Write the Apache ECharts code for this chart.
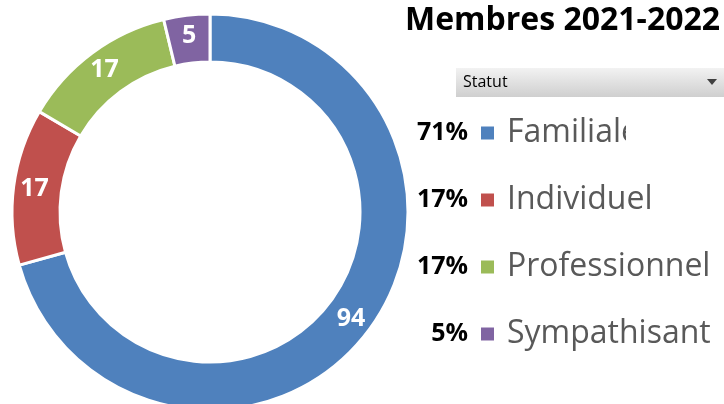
<!DOCTYPE html>
<html>
<head>
<meta charset="utf-8">
<style>
  html, body { margin: 0; padding: 0; background: #fff; }
  #chart { width: 724px; height: 404px; }
</style>
<script src="https://cdn.jsdelivr.net/npm/echarts@6/dist/echarts.min.js"></script>
</head>
<body>
<div id="chart"></div>
<script>
// Membres 2021-2022 par statut
var categories = ["Familiale", "Individuel", "Professionnel", "Sympathisant"];
var values = [94, 17, 17, 5];
var percents = ["71%", "17%", "17%", "5%"];
var colors = ["#4f81bd", "#c0504d", "#9bbb59", "#8064a2"];

(function () {
    var myChart = echarts.init(document.getElementById("chart"));

    var pieData = categories.map(function (name, i) {
        return { name: name, value: values[i] };
    });

    // legend layout
    var legendTop = 116;
    var rowH = 34;
    var gap = 33;

    var graphics = [
        {
            type: "rect",
            shape: { x: 456, y: 68, width: 268, height: 29 },
            style: {
                fill: new echarts.graphic.LinearGradient(0, 0, 0, 1, [
                    { offset: 0, color: "#f2f2f2" },
                    { offset: 1, color: "#cfcfcf" }
                ])
            }
        },
        {
            type: "text",
            x: 463, y: 82,
            style: {
                text: "Statut",
                font: "16px 'Open Sans', sans-serif",
                fill: "#000",
                verticalAlign: "middle"
            }
        },
        {
            type: "polygon",
            shape: { points: [[707, 79], [717, 79], [712, 85]] },
            style: { fill: "#404040" }
        },
        // mask over the end of "Familiale"
        {
            type: "rect",
            z: 100,
            shape: { x: 626, y: legendTop - 2, width: 100, height: rowH + 4 },
            style: { fill: "#fff" }
        }
    ];

    percents.forEach(function (p, i) {
        graphics.push({
            type: "text",
            x: 468,
            y: legendTop + rowH / 2 + i * (rowH + gap),
            style: {
                text: p,
                font: "bold 25px 'Open Sans', sans-serif",
                fill: "#000",
                align: "right",
                verticalAlign: "middle"
            }
        });
    });

    var option = {
        backgroundColor: "#fff",
        color: colors,
        title: {
            text: "Membres 2021-2022",
            left: 400,
            top: 0,
            textStyle: {
                fontFamily: "Open Sans",
                fontWeight: "bold",
                fontSize: 32,
                color: "#000"
            }
        },
        legend: {
            orient: "vertical",
            left: 479,
            top: legendTop,
            padding: 0,
            itemWidth: 15,
            itemHeight: 15,
            itemGap: gap,
            icon: "rect",
            data: categories,
            textStyle: {
                fontFamily: "Open Sans",
                fontSize: 32,
                color: "#595959",
                lineHeight: rowH,
                height: rowH,
                padding: [0, 0, 0, 7]
            }
        },
        graphic: graphics,
        series: [{
            type: "pie",
            center: [210, 212],
            radius: [150, 198],
            startAngle: 90,
            clockwise: true,
            avoidLabelOverlap: false,
            silent: true,
            itemStyle: {
                borderColor: "#fff",
                borderWidth: 3
            },
            label: {
                show: true,
                position: "inside",
                formatter: "{c}",
                color: "#fff",
                fontFamily: "Open Sans",
                fontWeight: "bold",
                fontSize: 25
            },
            labelLine: { show: false },
            data: pieData
        }]
    };

    myChart.setOption(option);
    window.addEventListener("resize", function () {
        myChart.resize();
    });
})();
</script>
</body>
</html>
